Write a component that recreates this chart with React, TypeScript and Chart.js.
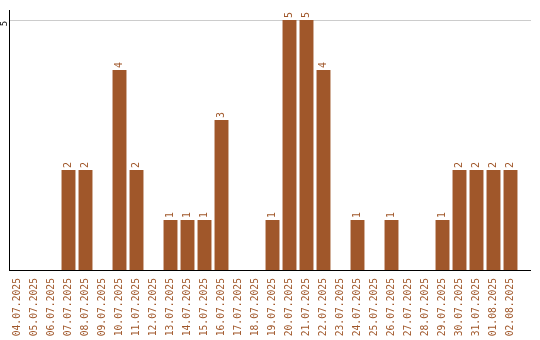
import React, { useEffect, useRef } from "react";
import { Chart, registerables } from "chart.js";

Chart.register(...registerables);

const categories = [
  "04.07.2025", "05.07.2025", "06.07.2025", "07.07.2025", "08.07.2025", "09.07.2025",
  "10.07.2025", "11.07.2025", "12.07.2025", "13.07.2025", "14.07.2025", "15.07.2025",
  "16.07.2025", "17.07.2025", "18.07.2025", "19.07.2025", "20.07.2025", "21.07.2025",
  "22.07.2025", "23.07.2025", "24.07.2025", "25.07.2025", "26.07.2025", "27.07.2025",
  "28.07.2025", "29.07.2025", "30.07.2025", "31.07.2025", "01.08.2025", "02.08.2025",
];
const values = [0, 0, 0, 2, 2, 0, 4, 2, 0, 1, 1, 1, 3, 0, 0, 1, 5, 5, 4, 0, 1, 0, 1, 0, 0, 1, 2, 2, 2, 2];
const yTicks = [5];

const BROWN = "#A0572A";

const drawPlugin = {
  id: "custom",
  beforeDatasetsDraw(chart: any) {
    const ctx = chart.ctx;
    const { left } = chart.chartArea;
    const y = chart.scales.y;
    const rightEnd = 531;
    ctx.save();
    ctx.strokeStyle = "#cccccc";
    ctx.lineWidth = 1;
    for (const t of yTicks) {
      const py = Math.round(y.getPixelForValue(t)) + 0.5;
      ctx.beginPath();
      ctx.moveTo(left, py);
      ctx.lineTo(rightEnd, py);
      ctx.stroke();
      ctx.save();
      ctx.translate(5, py + 3);
      ctx.rotate(-Math.PI / 2);
      ctx.fillStyle = "#000";
      ctx.font = "9px 'DejaVu Sans Mono'";
      ctx.textAlign = "center";
      ctx.textBaseline = "middle";
      ctx.fillText(String(t), 0, 0);
      ctx.restore();
    }
    ctx.restore();
  },
  afterDatasetsDraw(chart: any) {
    const ctx = chart.ctx;
    const { left, bottom, top } = chart.chartArea;
    const rightEnd = 531;
    ctx.save();
    ctx.strokeStyle = "#000";
    ctx.lineWidth = 1;
    ctx.beginPath();
    ctx.moveTo(Math.round(left) + 0.5, top);
    ctx.lineTo(Math.round(left) + 0.5, bottom);
    ctx.stroke();
    ctx.beginPath();
    ctx.moveTo(left, Math.round(bottom) + 0.5);
    ctx.lineTo(rightEnd, Math.round(bottom) + 0.5);
    ctx.stroke();
    const meta = chart.getDatasetMeta(0);
    ctx.fillStyle = BROWN;
    ctx.font = "10px 'DejaVu Sans Mono'";
    ctx.textAlign = "left";
    ctx.textBaseline = "middle";
    meta.data.forEach((bar: any, i: number) => {
      const v = values[i];
      if (!v) return;
      ctx.save();
      ctx.translate(bar.x, bar.y - 2);
      ctx.rotate(-Math.PI / 2);
      ctx.fillText(String(v), 0, 0);
      ctx.restore();
    });
    ctx.restore();
  },
};

export default function App() {
  const ref = useRef<HTMLCanvasElement>(null);
  useEffect(() => {
    document.body.style.margin = "0";
    const chart = new Chart(ref.current!, {
      type: "bar",
      data: {
        labels: categories,
        datasets: [
          {
            data: values,
            backgroundColor: BROWN,
            borderWidth: 0,
            categoryPercentage: 1,
            barPercentage: 0.82,
          },
        ],
      },
      options: {
        animation: false,
        responsive: false,
        events: [],
        layout: { padding: { left: 9, right: 21, top: 10, bottom: 0 } },
        plugins: { legend: { display: false }, tooltip: { enabled: false } },
        scales: {
          x: {
            grid: { display: false },
            border: { display: false },
            ticks: {
              color: BROWN,
              minRotation: 90,
              maxRotation: 90,
              autoSkip: false,
              padding: 0,
              font: { family: "'DejaVu Sans Mono'", size: 9.7 },
            },
            afterFit(scale: any) {
              scale.height = 70;
            },
          },
          y: {
            min: 0,
            max: 5.2,
            grid: { display: false },
            border: { display: false },
            ticks: { display: false },
            afterFit(scale: any) {
              scale.width = 0;
            },
          },
        },
      },
      plugins: [drawPlugin],
    });
    return () => chart.destroy();
  }, []);
  return (
    <div style={{ position: "absolute", left: 0, top: 0, width: 540, height: 340 }}>
      <canvas ref={ref} width={540} height={340} />
    </div>
  );
}
